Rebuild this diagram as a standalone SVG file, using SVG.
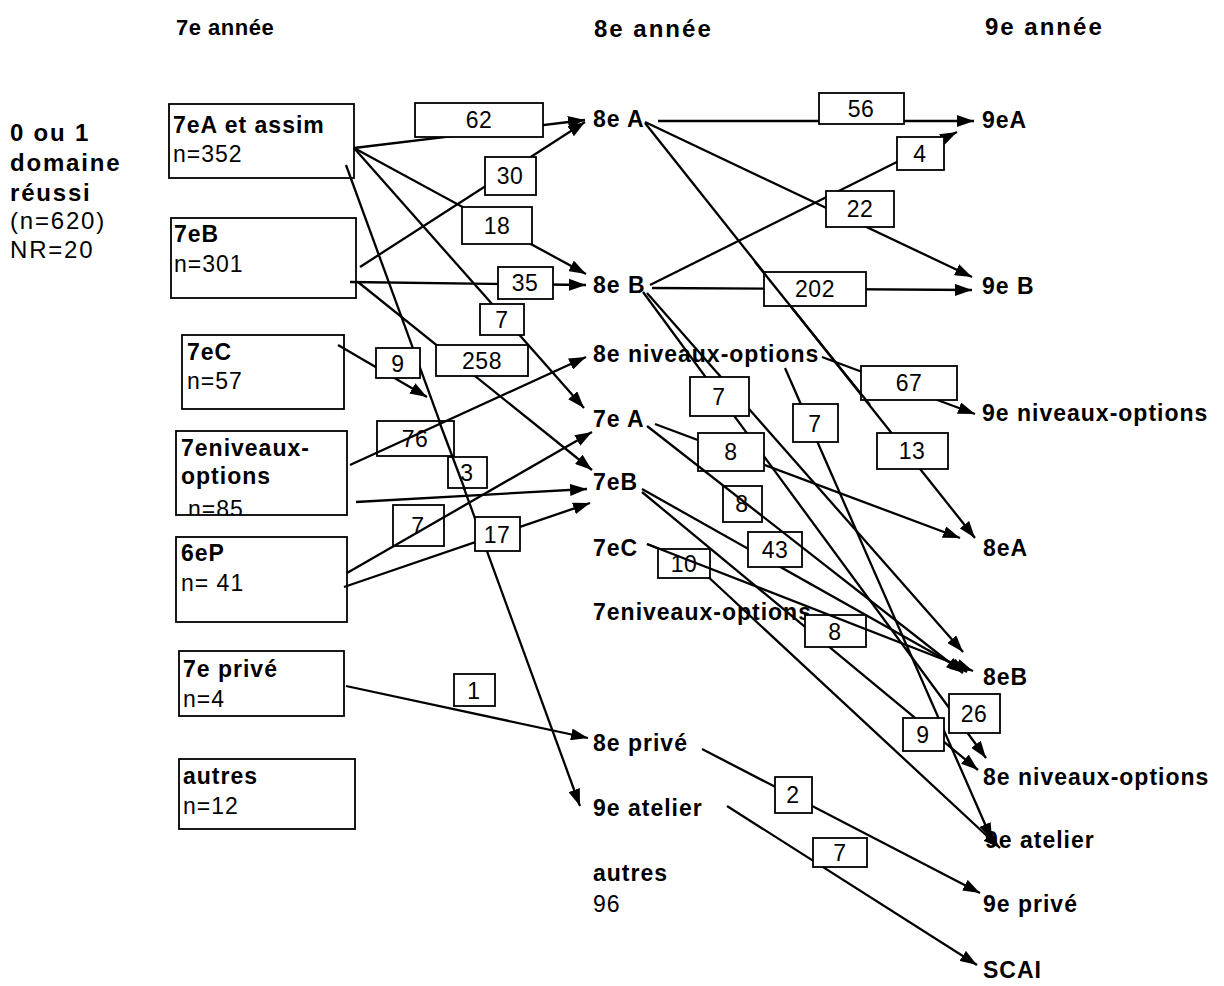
<svg xmlns="http://www.w3.org/2000/svg" width="1224" height="986" viewBox="0 0 1224 986">
<style>
text{font-family:"Liberation Sans",Arial,Helvetica,sans-serif;font-size:23px;letter-spacing:1px;fill:#000}
.b{font-weight:bold}
.lg{font-size:24px;letter-spacing:1.8px}
.h{font-weight:bold;font-size:22px;letter-spacing:0.5px}
.h2{font-weight:bold;font-size:24px;letter-spacing:2px}
.n{text-anchor:middle;letter-spacing:0.5px}
.box{fill:#fff;stroke:#000;stroke-width:1.8}
.lbl rect{fill:#fff;stroke:#000;stroke-width:1.8}
.ln{fill:none;stroke:#000;stroke-width:2.3}
.ar{marker-end:url(#ah)}
</style>
<defs>
<marker id="ah" viewBox="0 0 17 12" refX="17" refY="6" markerWidth="17" markerHeight="12" markerUnits="userSpaceOnUse" orient="auto">
<path d="M0,0 L17,6 L0,12 Z" fill="#000"/>
</marker>
<clipPath id="clip85"><rect x="176" y="431" width="171" height="84"/></clipPath>
</defs>
<rect width="1224" height="986" fill="#fff"/>

<g id="headers">
<text class="h" x="176" y="35">7e année</text>
<text class="h2" x="594" y="37">8e année</text>
<text class="h2" x="985" y="35">9e année</text>
</g>

<g id="legend">
<text class="b lg" x="10" y="141">0 ou 1</text>
<text class="b lg" x="10" y="171">domaine</text>
<text class="b lg" x="10" y="201">réussi</text>
<text class="lg" x="10" y="229">(n=620)</text>
<text class="lg" x="10" y="258">NR=20</text>
</g>

<g id="n7eA"><rect class="box" x="169" y="104" width="185" height="74"/><text class="b" x="173" y="133">7eA et assim</text><text x="173" y="162">n=352</text></g>
<g id="n7eB"><rect class="box" x="171" y="218" width="185" height="80"/><text class="b" x="174" y="242">7eB</text><text x="174" y="272">n=301</text></g>
<g id="n7eC"><rect class="box" x="182" y="335" width="162" height="74"/><text class="b" x="187" y="360">7eC</text><text x="187" y="389">n=57</text></g>
<g id="n7eNO"><rect class="box" x="176" y="431" width="171" height="84"/><text class="b" x="181" y="456">7eniveaux-</text><text class="b" x="181" y="484">options</text><text x="188" y="517" clip-path="url(#clip85)">n=85</text></g>
<g id="n6eP"><rect class="box" x="176" y="537" width="171" height="85"/><text class="b" x="181" y="561">6eP</text><text x="181" y="591">n= 41</text></g>
<g id="n7ePrive"><rect class="box" x="179" y="651" width="165" height="65"/><text class="b" x="183" y="677">7e privé</text><text x="183" y="707">n=4</text></g>
<g id="nAutres7"><rect class="box" x="179" y="759" width="176" height="70"/><text class="b" x="183" y="784">autres</text><text x="183" y="814">n=12</text></g>

<g id="m8eA"><text class="b" x="593" y="127">8e A</text></g>
<g id="m8eB"><text class="b" x="593" y="293">8e B</text></g>
<g id="m8eNO"><text class="b" x="593" y="362">8e niveaux-options</text></g>
<g id="m7eA"><text class="b" x="593" y="427">7e A</text></g>
<g id="m7eB"><text class="b" x="593" y="490">7eB</text></g>
<g id="m7eC"><text class="b" x="593" y="556">7eC</text></g>
<g id="m7eNO"><text class="b" x="593" y="620">7eniveaux-options</text></g>
<g id="m8ePrive"><text class="b" x="593" y="751">8e privé</text></g>
<g id="m9eAtelier"><text class="b" x="593" y="816">9e atelier</text></g>
<g id="mAutres"><text class="b" x="593" y="881">autres</text><text x="593" y="912">96</text></g>

<g id="r9eA"><text class="b" x="982" y="128">9eA</text></g>
<g id="r9eB"><text class="b" x="982" y="294">9e B</text></g>
<g id="r9eNO"><text class="b" x="982" y="421">9e niveaux-options</text></g>
<g id="r8eA"><text class="b" x="983" y="556">8eA</text></g>
<g id="r8eB"><text class="b" x="983" y="685">8eB</text></g>
<g id="r8eNO"><text class="b" x="983" y="785">8e niveaux-options</text></g>
<g id="r9eAtelier"><text class="b" x="985" y="848">9e atelier</text></g>
<g id="r9ePrive"><text class="b" x="983" y="912">9e privé</text></g>
<g id="rSCAI"><text class="b" x="983" y="978">SCAI</text></g>

<g id="connectors">
<g id="lines-under">
<path class="ln ar" d="M354,148 L585,120"/>
<path class="ln ar" d="M354,148 L586,274"/>
<path class="ln ar" d="M354,148 L584,408"/>
<path class="ln ar" d="M346,165 L580,806"/>
<path class="ln ar" d="M360,267 L585,122"/>
<path class="ln ar" d="M350,282 L586,285"/>
<path class="ln ar" d="M358,282 L592,470"/>
<path class="ln ar" d="M338,345 L427,397"/>
<path class="ln ar" d="M356,502 L587,489"/>
<path class="ln ar" d="M344,587 L590,503"/>
<path class="ln ar" d="M346,686 L588,738"/>
<path class="ln ar" d="M658,121 L974,121"/>
<path class="ln ar" d="M645,122 L972,277"/>
<path class="ln ar" d="M645,123 L975,538"/>
<path class="ln ar" d="M650,285 L957,132"/>
<path class="ln ar" d="M652,288 L972,290"/>
<path class="ln ar" d="M643,292 L986,758"/>
<path class="ln ar" d="M647,293 L963,652"/>
<path class="ln ar" d="M822,357 L975,414"/>
<path class="ln ar" d="M785,368 L992,840"/>
<path class="ln ar" d="M655,424 L960,538"/>
<path class="ln ar" d="M642,489 L967,672"/>
<path class="ln ar" d="M642,492 L978,770"/>
<path class="ln" d="M647,544 L672,554"/>
<path class="ln ar" d="M690,560 L1000,848"/>
<path class="ln ar" d="M702,749 L980,893"/>
<path class="ln ar" d="M727,806 L977,965"/>
</g>
<g id="labels" class="lbl">
<rect x="415" y="103" width="128" height="34"/><text class="n" x="479" y="128">62</text>
<rect x="819" y="93" width="85" height="31"/><text class="n" x="861" y="117">56</text>
<rect x="485" y="157" width="51" height="38"/><text class="n" x="510" y="184">30</text>
<rect x="897" y="137" width="47" height="33"/><text class="n" x="920" y="162">4</text>
<rect x="462" y="207" width="70" height="37"/><text class="n" x="497" y="234">18</text>
<rect x="826" y="191" width="68" height="36"/><text class="n" x="860" y="217">22</text>
<rect x="498" y="267" width="55" height="32"/><text class="n" x="525" y="291">35</text>
<rect x="764" y="272" width="102" height="34"/><text class="n" x="815" y="297">202</text>
<rect x="480" y="304" width="44" height="31"/><text class="n" x="502" y="328">7</text>
<rect x="436" y="345" width="92" height="31"/><text class="n" x="482" y="369">258</text>
<rect x="376" y="348" width="44" height="30"/><text class="n" x="398" y="372">9</text>
<rect x="861" y="366" width="96" height="34"/><text class="n" x="909" y="391">67</text>
<rect x="690" y="377" width="59" height="39"/><text class="n" x="719" y="405">7</text>
<rect x="793" y="404" width="45" height="38"/><text class="n" x="815" y="432">7</text>
<rect x="377" y="421" width="77" height="35"/><text class="n" x="415" y="447">76</text>
<rect x="877" y="433" width="71" height="36"/><text class="n" x="912" y="459">13</text>
<rect x="698" y="433" width="66" height="38"/><text class="n" x="731" y="460">8</text>
<rect x="448" y="457" width="39" height="31"/><text class="n" x="467" y="481">3</text>
<rect x="723" y="486" width="39" height="36"/><text class="n" x="742" y="512">8</text>
<rect x="393" y="505" width="51" height="41"/><text class="n" x="418" y="534">7</text>
<rect x="475" y="517" width="45" height="34"/><text class="n" x="497" y="543">17</text>
<rect x="748" y="532" width="54" height="35"/><text class="n" x="775" y="558">43</text>
<rect x="658" y="549" width="52" height="29"/><text class="n" x="684" y="572">10</text>
<rect x="805" y="615" width="61" height="32"/><text class="n" x="835" y="640">8</text>
<rect x="454" y="674" width="41" height="32"/><text class="n" x="474" y="699">1</text>
<rect x="949" y="694" width="51" height="39"/><text class="n" x="974" y="722">26</text>
<rect x="903" y="718" width="41" height="33"/><text class="n" x="923" y="743">9</text>
<rect x="775" y="777" width="37" height="36"/><text class="n" x="793" y="803">2</text>
<rect x="813" y="838" width="54" height="29"/><text class="n" x="840" y="861">7</text>
</g>
<g id="lines-over">
<path class="ln ar" d="M350,465 L586,357"/>
<path class="ln" d="M439,421 L465,490"/>
<path class="ln ar" d="M347,573 L592,432"/>
<path class="ln ar" d="M647,426 L963,673"/>
<path class="ln ar" d="M647,544 L973,671"/>
<path class="ln" d="M755,262 L870,405"/>
</g>
</g>
</svg>
